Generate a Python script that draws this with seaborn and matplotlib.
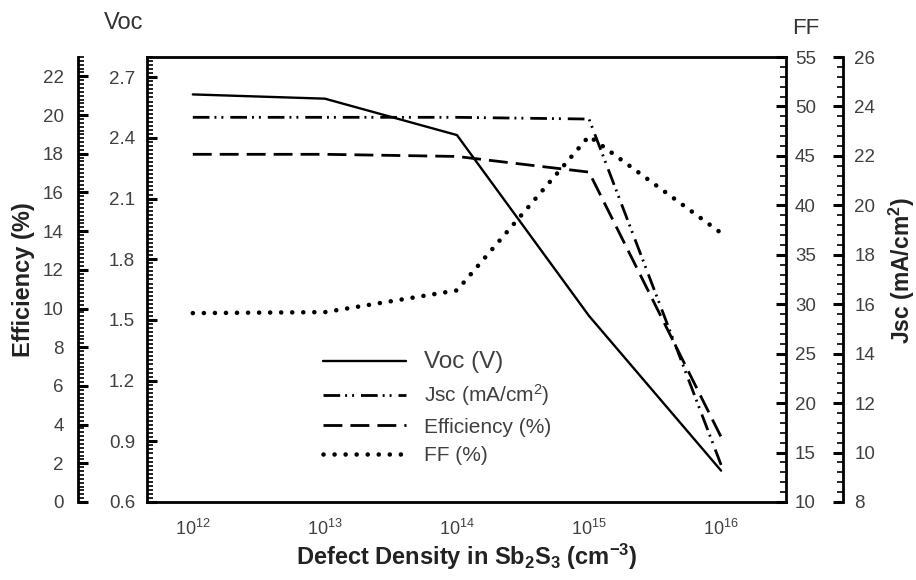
import matplotlib
matplotlib.use("Agg")
import matplotlib.pyplot as plt
import seaborn as sns
import pandas as pd
from matplotlib.ticker import FixedLocator, MultipleLocator, LogLocator, FormatStrFormatter, NullFormatter

# ---- data ----
defect_density = [1e12, 1e13, 1e14, 1e15, 1e16]
voc = [2.615, 2.594, 2.414, 1.52, 0.755]          # V
jsc = [23.56, 23.56, 23.56, 23.49, 9.5]           # mA/cm2
efficiency = [17.97, 17.97, 17.86, 17.05, 3.36]   # %
ff = [29.1, 29.2, 31.4, 47.0, 37.2]               # %

eff_ticks = [0, 2, 4, 6, 8, 10, 12, 14, 16, 18, 20, 22]
voc_ticks = [0.6, 0.9, 1.2, 1.5, 1.8, 2.1, 2.4, 2.7]
ff_ticks = [10, 15, 20, 25, 30, 35, 40, 45, 50, 55]
jsc_ticks = [8, 10, 12, 14, 16, 18, 20, 22, 24, 26]
x_ticks = [1e12, 1e13, 1e14, 1e15, 1e16]
legend_labels = ["Voc (V)", "Jsc (mA/cm$^{2}$)", "Efficiency (%)", "FF (%)"]

df = pd.DataFrame({"N": defect_density, "Voc": voc, "Jsc": jsc,
                   "Eff": efficiency, "FF": ff})

sns.set_style("white")
plt.rcParams['font.family'] = ['Liberation Sans', 'DejaVu Sans']
plt.rcParams['mathtext.fontset'] = 'custom'
plt.rcParams['mathtext.rm'] = 'Liberation Sans'
plt.rcParams['mathtext.it'] = 'Liberation Sans:italic'
plt.rcParams['mathtext.bf'] = 'Liberation Sans:bold'

W, H = 916, 580
fig = plt.figure(figsize=(W / 100, H / 100), dpi=100)
x0, x1, y0, y1 = 147, 786, 57, 502
ax_voc = fig.add_axes([x0 / W, 1 - y1 / H, (x1 - x0) / W, (y1 - y0) / H])
ax_eff = ax_voc.twinx()
ax_ff = ax_voc.twinx()
ax_jsc = ax_voc.twinx()
ax_voc.set_xscale('log')

TICKC = '#404040'
LABC = '#222222'
LW_SP = 2.0

# ---- lines ----
sns.lineplot(data=df, x="N", y="Voc", ax=ax_voc, color='black', lw=1.7,
             legend=False, label=legend_labels[0])
sns.lineplot(data=df, x="N", y="Jsc", ax=ax_jsc, color='black', lw=2.0,
             linestyle=(0, (6, 1.8, 0.7, 1.8, 0.7, 2.5)), legend=False,
             label=legend_labels[1])
sns.lineplot(data=df, x="N", y="Eff", ax=ax_eff, color='black', lw=2.0,
             linestyle=(0, (6.8, 2.9)), legend=False, label=legend_labels[2])
sns.lineplot(data=df, x="N", y="FF", ax=ax_ff, color='black', lw=3.3,
             linestyle=(0, (0.01, 2.4)), dash_capstyle='round', legend=False,
             label=legend_labels[3])

ax_voc.set_xlim(4.5e11, 3.1e16)

# ---- spines ----
for a in (ax_eff, ax_ff, ax_jsc):
    for s in a.spines.values():
        s.set_visible(False)
for s in ax_voc.spines.values():
    s.set_linewidth(LW_SP)
    s.set_color('black')
ax_voc.spines['right'].set_visible(False)

ax_eff.spines['left'].set_visible(True)
ax_eff.spines['left'].set_position(('axes', (78.3 - x0) / (x1 - x0)))
ax_eff.yaxis.set_ticks_position('left')
ax_eff.yaxis.set_label_position('left')

ax_ff.spines['right'].set_visible(True)
ax_jsc.spines['right'].set_visible(True)
ax_jsc.spines['right'].set_position(('axes', (843.3 - x0) / (x1 - x0)))
for a, side in ((ax_eff, 'left'), (ax_ff, 'right'), (ax_jsc, 'right')):
    a.spines[side].set_linewidth(LW_SP)
    a.spines[side].set_color('black')

# ---- y scales ----
ax_eff.set_ylim(0, 23)
ax_eff.yaxis.set_major_locator(FixedLocator(eff_ticks))
ax_eff.yaxis.set_minor_locator(MultipleLocator(0.2))

ax_voc.set_ylim(0.6, 2.8)
ax_voc.yaxis.set_major_locator(FixedLocator(voc_ticks))
ax_voc.yaxis.set_major_formatter(FormatStrFormatter('%.1f'))
ax_voc.yaxis.set_minor_locator(MultipleLocator(0.02))

ax_ff.set_ylim(10, 55)
ax_ff.yaxis.set_major_locator(FixedLocator(ff_ticks))
ax_ff.yaxis.set_minor_locator(MultipleLocator(1))

ax_jsc.set_ylim(8, 26)
ax_jsc.yaxis.set_major_locator(FixedLocator(jsc_ticks))
ax_jsc.yaxis.set_minor_locator(MultipleLocator(0.4))

for a, pad in ((ax_eff, 10.5), (ax_voc, 8.5), (ax_ff, 6.5), (ax_jsc, 8.0)):
    a.tick_params(axis='y', which='major', direction='in', length=7, width=2.2,
                  labelsize=13.5, labelcolor=TICKC, pad=pad, color='black')
    a.tick_params(axis='y', which='minor', direction='in', length=4, width=1.2,
                  color='black')

# ---- x axis ----
ax_voc.xaxis.set_major_locator(FixedLocator(x_ticks))
ax_voc.xaxis.set_minor_locator(LogLocator(base=10, subs=range(2, 10), numticks=20))
ax_voc.xaxis.set_minor_formatter(NullFormatter())
ax_voc.tick_params(axis='x', which='major', direction='in', length=7, width=2.2,
                   labelsize=13, labelcolor=TICKC, pad=12, top=False, color='black')
ax_voc.tick_params(axis='x', which='minor', direction='in', length=4, width=1.2,
                   top=False, color='black')
for a in (ax_eff, ax_ff, ax_jsc):
    a.tick_params(axis='x', which='both', bottom=False, top=False,
                  labelbottom=False, labeltop=False)

# ---- labels ----
ax_voc.set_ylabel('')
ax_ff.set_ylabel('')
ax_eff.set_ylabel('Efficiency (%)', fontsize=17, fontweight='bold', color=LABC)
ax_eff.yaxis.set_label_coords((35 - x0) / (x1 - x0), 0.5)
ax_jsc.set_ylabel(r'Jsc (mA/cm$^\mathbf{2}$)', fontsize=16.5, fontweight='bold', color=LABC)
ax_jsc.yaxis.set_label_coords((887 - x0) / (x1 - x0), 0.52)
ax_voc.set_xlabel(r'Defect Density in Sb$_\mathbf{2}$S$_\mathbf{3}$ (cm$^\mathbf{-3}$)',
                  fontsize=17, fontweight='bold', color=LABC)
ax_voc.xaxis.set_label_coords(0.5, (y1 - 542) / (y1 - y0))

fig.text(124 / W, 1 - 23 / H, 'Voc', fontsize=17, color='#333333', ha='center', va='center')
fig.text(806 / W, 1 - 28 / H, 'FF', fontsize=16, color='#333333', ha='center', va='center')

# ---- legend ----
handles = [ax_voc.get_lines()[0], ax_jsc.get_lines()[0],
           ax_eff.get_lines()[0], ax_ff.get_lines()[0]]
leg = fig.legend(handles, legend_labels, loc='upper left',
                 bbox_to_anchor=(323 / W, 1 - 351 / H), frameon=False,
                 fontsize=15, handlelength=4.0, handletextpad=0.85,
                 labelspacing=0.45, borderpad=0, borderaxespad=0)
for i, t in enumerate(leg.get_texts()):
    t.set_color(TICKC)
    if i == 0:
        t.set_fontsize(17.5)

fig.savefig('out.png', dpi=100)
